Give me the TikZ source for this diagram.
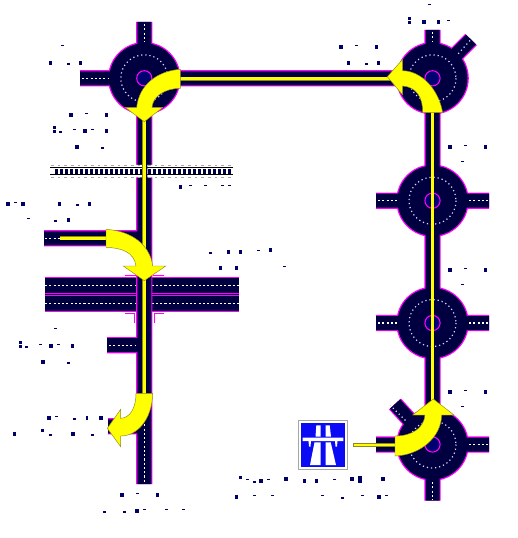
\documentclass[tikz,border=0pt]{standalone}
\definecolor{roadnavy}{HTML}{000040}
\definecolor{island}{HTML}{000070}
\definecolor{speckblue}{HTML}{000066}
\definecolor{mag}{HTML}{FF00FF}
\definecolor{arrowy}{HTML}{FFFF00}
\definecolor{arrowedge}{HTML}{8A8A20}
\definecolor{signblue}{HTML}{0A0AF5}
\newcommand{\roadnet}{
  (144.3,22) -- (144.3,484)
  (80,78.3) -- (144.3,78.3) -- (432.5,78.3)
  (432.5,30) -- (432.5,500.5)
  (471,39.5) -- (432.5,78.3)
  (395,404) -- (432.5,445)
  (376,200.7) -- (489,200.7)
  (376,323) -- (489,323)
  (376,444.5) -- (489,444.5)
  (44,238.3) -- (144.3,238.3)
  (107,345.2) -- (144.3,345.2)
  (108,426.3) -- (144.3,426.3)
}
\newcommand{\spk}[4]{\fill[speckblue] (#1,#2) rectangle ++(#3,#4);}
\tikzset{
  x=0.75pt,y=-0.75pt,
  roadedge/.style={line width=12.2pt,draw=mag},
  roadbody/.style={line width=10.5pt,draw=roadnavy},
  isle/.style={fill=island,draw=mag,line width=0.8pt},
  dotring/.style={draw=white!85!blue,line width=0.9pt,dash pattern=on 0.9pt off 2.2pt},
  lanedash/.style={draw=white,line width=0.8pt,dash pattern=on 1.6pt off 1.6pt},
  routearrow/.style={fill=arrowy,draw=arrowedge,line width=0.35pt,line join=miter},
  stem/.style={line width=2.2pt,draw=arrowy},
  stemedge/.style={line width=2.9pt,draw=arrowedge},
  slipmark/.style={draw=mag,line width=0.8pt},
}
\begin{document}
\begin{tikzpicture}
\useasboundingbox (0,0) rectangle (517,538);
\fill[white] (0,0) rectangle (517,538);
% motorway
\fill[roadnavy] (45,277.3) rectangle (239,311.7);
\draw[mag,line width=0.8pt] (45,277.3) -- (239,277.3) (45,293.3) -- (239,293.3) (45,295.4) -- (239,295.4) (45,311.7) -- (239,311.7);
\draw[lanedash] (45,285.3) -- (239,285.3) (45,303.3) -- (239,303.3);
\draw[slipmark] (125,275.4) -- (135.5,275.4) (153,275.4) -- (164,275.4);
\draw[slipmark] (125,313.3) -- (134.5,313.3) -- (134.5,323) (154.5,323) -- (154.5,313.3) -- (164,313.3);
% road network
\draw[roadedge] \roadnet;
\foreach \cc in {(144.3,78.3),(432.5,78.3),(432.5,200.7),(432.5,323),(432.5,444.5)}{
  \fill[mag] \cc circle (36.3);
}
\draw[roadbody] \roadnet;
\foreach \cc in {(144.3,78.3),(432.5,78.3),(432.5,200.7),(432.5,323),(432.5,444.5)}{
  \fill[roadnavy] \cc circle (35);
  \draw[isle] \cc circle (7.6);
  \draw[dotring] \cc circle (23.5);
}
% lane dashes
\draw[lanedash] (144.3,24) -- (144.3,42)
  (82,78.3) -- (108,78.3)
  (432.5,32) -- (432.5,42)
  (45,238.3) -- (60,238.3)
  (109,345.2) -- (136,345.2)
  (144.3,420) -- (144.3,484)
  (378,200.7) -- (397,200.7) (469,200.7) -- (488,200.7)
  (378,323) -- (397,323) (469,323) -- (488,323)
  (469,444.5) -- (488,444.5)
  (432.5,482) -- (432.5,500);
\draw[dotring] (470,40.5) -- (458,54) (390,405) -- (407,422);
% railway
\fill[white] (50,165) rectangle (142.3,177.5) (147.3,165) rectangle (232.7,177.5);
\draw[gray!70,line width=0.7pt,dash pattern=on 2pt off 3pt] (51,165.2) -- (142,165.2) (148,165.2) -- (232,165.2) (51,177.3) -- (142,177.3) (148,177.3) -- (232,177.3);
\draw[black,line width=1pt] (50,167.7) -- (142.3,167.7) (147.3,167.7) -- (232.7,167.7) (50,174.8) -- (142.3,174.8) (147.3,174.8) -- (232.7,174.8);
\foreach \i in {0,...,17}{
  \fill[roadnavy] ({55+5*\i},168.7) rectangle ++(3,5);
}
\foreach \i in {0,...,16}{
  \fill[roadnavy] ({148+5*\i},168.7) rectangle ++(3,5);
}
% yellow route lines
\draw[stemedge] (180,78.6) -- (392,78.6) (144.3,120) -- (144.3,270) (144.3,278) -- (144.3,395) (432.5,112) -- (432.5,402) (59.5,238.4) -- (108,238.4) (353.3,445) -- (397,445);
\draw[stem] (180,78.6) -- (392,78.6) (144.3,120) -- (144.3,270) (144.3,278) -- (144.3,395) (432.5,112) -- (432.5,402) (60,238.4) -- (108,238.4) (353.8,445) -- (397,445);
% turn arrows
\draw[routearrow] (180.3,69.3) .. controls (157,71) and (139,85) .. (136.7,107.3) -- (125,107.3) -- (144.3,121.7) -- (163,107.3) -- (152,107.3) .. controls (153,96) and (165,88.5) .. (180.3,88.3) -- cycle;
\draw[routearrow] (442.7,112.7) .. controls (438,87) and (420,71) .. (402.7,70.7) -- (402.7,59.3) -- (387.3,76.7) -- (402.7,95) -- (402.7,86) .. controls (416,87) and (423,97) .. (422.7,112.7) -- cycle;
\draw[routearrow] (106,229.3) .. controls (132,231) and (150,245) .. (152.7,266) -- (165.7,266) -- (144.3,280.7) -- (123.3,266) -- (136,266) .. controls (134,252) and (122,248) .. (106,247.3) -- cycle;
\draw[routearrow] (152.7,393.3) .. controls (152,420) and (137,436) .. (120.7,436) -- (120.7,446.7) -- (107.3,428.3) -- (120.7,409.3) -- (120.7,418.3) .. controls (130,418) and (136,408) .. (136,393.3) -- cycle;
\draw[routearrow] (395,456) .. controls (420,455) and (441,438) .. (441.7,415) -- (454,415) -- (433.3,399) -- (412.7,415) -- (425,415) .. controls (424,428) and (412,436) .. (395,436) -- cycle;
% motorway sign
\draw[gray!70,fill=white,line width=0.6pt] (298.5,420.2) rectangle (347.5,469.2);
\fill[signblue] (301.3,423.3) rectangle (344.7,466.7);
\fill[white] (316.3,425.3) -- (320.5,425.3) -- (320.7,436.5) -- (315.5,436.5) -- cycle
 (325.7,425.3) -- (329.7,425.3) -- (331,436.5) -- (325.7,436.5) -- cycle
 (302.7,437.7) -- (343.3,437.7) -- (343.3,441) -- (337.5,441) -- (337,446.5) -- (335.5,446.5) -- (335,441) -- (311,441) -- (310.5,446.5) -- (309,446.5) -- (308.5,441) -- (302.7,441) -- cycle
 (314.5,442.3) -- (320.7,442.3) -- (320.7,465) -- (310,465) -- cycle
 (325.7,442.3) -- (330.7,442.3) -- (336,465) -- (325.7,465) -- cycle;
% label specks
\spk{61}{45}{3}{1}\spk{49}{61}{3}{4}\spk{67}{63}{3}{2}\spk{79}{61}{3}{4}
\spk{69}{113}{4}{4}\spk{85}{113}{3}{1}\spk{105}{113}{3}{4}
\spk{53}{126}{3}{3}\spk{53}{130}{3}{3}\spk{59}{131}{3}{2}\spk{73}{129}{3}{1}\spk{83}{129}{4}{4}\spk{91}{129}{3}{1}\spk{105}{129}{3}{4}
\spk{75}{145}{4}{4}\spk{101}{147}{3}{2}
\spk{179}{185}{3}{4}\spk{189}{185}{3}{1}\spk{204}{185}{3}{1}\spk{221}{185}{3}{1}\spk{228}{185}{3}{1}
\spk{6}{202}{4}{4}\spk{14}{202}{3}{1}\spk{21}{202}{4}{4}\spk{58}{202}{3}{4}\spk{76}{204}{3}{2}\spk{88}{202}{3}{4}
\spk{27}{218}{3}{1}\spk{54}{220}{3}{2}\spk{67}{218}{3}{4}
\spk{209}{252}{3}{2}\spk{227}{250}{3}{4}\spk{239}{250}{3}{4}\spk{257}{250}{3}{1}\spk{268.5}{248}{3}{4}\spk{219}{266}{3}{4}\spk{235}{266}{3}{4}\spk{283}{266}{3}{1}
\spk{54}{328}{3}{1}
\spk{19}{341}{3}{3}\spk{19}{345}{3}{3}\spk{25}{346}{3}{2}\spk{39}{344}{3}{1}\spk{49}{344}{4}{4}\spk{57}{344}{3}{1}\spk{71}{344}{3}{4}
\spk{41}{360}{4}{4}\spk{67}{362}{3}{2}
\spk{47}{416}{4}{4}\spk{55}{416}{3}{1}\spk{73}{418}{3}{2}\spk{86}{416}{2}{4}\spk{99}{416}{4}{4}
\spk{13}{432}{3}{4}\spk{41}{429}{3}{3}\spk{49}{434}{3}{2}\spk{71}{432}{4}{4}\spk{91}{434}{3}{2}
\spk{120}{493}{4}{4}\spk{136}{493}{3}{1}\spk{156}{493}{3}{4}
\spk{103}{511}{3}{2}\spk{123}{511}{3}{2}\spk{135}{509}{4}{4}\spk{143}{509}{3}{1}\spk{165}{509}{3}{1}\spk{182}{509}{3}{1}
\spk{428}{4}{3}{1}\spk{408}{17}{3}{3}\spk{408}{21}{3}{3}\spk{422}{20}{4}{4}\spk{437}{20}{3}{4}\spk{447}{20}{3}{1}
\spk{339}{45}{4}{4}\spk{355}{45}{3}{1}\spk{375}{45}{3}{4}
\spk{347}{61}{3}{4}\spk{365}{63}{3}{2}\spk{377}{61}{3}{4}
\spk{448}{145}{4}{4}\spk{464}{145}{3}{1}\spk{484}{145}{3}{4}\spk{461}{161}{3}{1}
\spk{448}{268}{4}{4}\spk{464}{268}{3}{1}\spk{484}{268}{3}{4}\spk{461}{284}{3}{1}
\spk{448}{390}{4}{4}\spk{464}{390}{3}{1}\spk{484}{390}{3}{4}\spk{461}{406}{3}{1}
\spk{239}{476}{3}{3}\spk{246}{479}{3}{1}\spk{253}{481}{3}{2}\spk{259}{479}{4}{4}\spk{267}{479}{3}{1}\spk{284}{477}{4}{4}\spk{303}{479}{3}{4}\spk{315}{479}{3}{4}\spk{333}{479}{3}{1}\spk{350}{477}{4}{4}\spk{358}{476}{4}{7}\spk{381}{477}{4}{4}
\spk{235}{495}{3}{4}\spk{253}{495}{3}{1}\spk{271}{495}{3}{1}\spk{321}{495}{3}{1}\spk{341}{497}{3}{2}\spk{361}{495}{3}{1}\spk{377}{495}{4}{4}\spk{385}{495}{3}{1}
\end{tikzpicture}
\end{document}
